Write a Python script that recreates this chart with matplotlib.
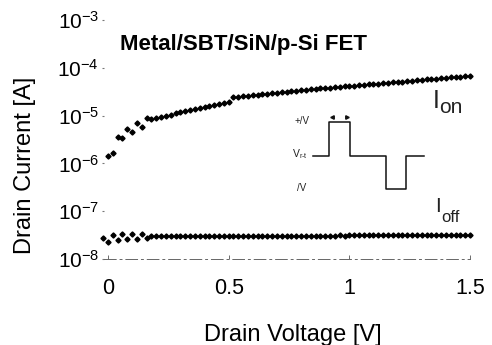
import numpy as np
import matplotlib
matplotlib.use("Agg")
import matplotlib.pyplot as plt

plt.rcParams["font.family"] = ["Liberation Sans", "DejaVu Sans"]
plt.rcParams["mathtext.default"] = "regular"

# drain voltage sweep, 20 mV steps
on_voltage = np.arange(0, 1.5001, 0.02)
off_voltage = np.arange(-0.02, 1.5001, 0.02)

# on current in uA
on_current_uA = [
    1.43, 1.67, 3.52, 3.35, 5.16, 4.60, 7.10, 5.69, 8.79, 8.49,
    8.91, 9.35, 9.91, 10.5, 11.1, 11.7, 12.3, 13.0, 13.7, 14.4,
    15.1, 15.9, 16.8, 17.6, 18.5, 19.5, 24.2, 24.7, 25.4, 25.9,
    26.6, 27.2, 27.9, 28.6, 29.3, 30.0, 30.7, 31.5, 32.2, 33.0,
    33.8, 34.7, 35.5, 36.2, 36.9, 37.7, 38.4, 39.2, 40.0, 40.7,
    41.6, 42.4, 43.3, 44.1, 45.0, 45.9, 46.8, 47.8, 48.6, 49.7,
    50.6, 51.6, 52.7, 53.7, 54.8, 55.9, 57.0, 58.2, 59.3, 60.5,
    61.7, 63.0, 64.1, 65.5, 66.7, 68.1,
]

# off current in units of 1e-8 A
off_current_1e8 = [
    2.69, 2.30, 3.18, 2.50, 3.29, 2.62, 3.29, 2.62, 3.34, 2.71,
    3.05, 3.05, 3.05, 3.06, 3.05, 3.06, 3.06, 3.05, 3.06, 3.06,
    3.06, 3.07, 3.06, 3.07, 3.07, 3.07, 3.07, 3.08, 3.07, 3.08,
    3.08, 3.08, 3.08, 3.08, 3.09, 3.08, 3.09, 3.09, 3.09, 3.09,
    3.09, 3.10, 3.09, 3.10, 3.10, 3.10, 3.10, 3.10, 3.10, 3.11,
    3.10, 3.11, 3.11, 3.11, 3.11, 3.11, 3.11, 3.12, 3.11, 3.12,
    3.12, 3.12, 3.12, 3.13, 3.12, 3.13, 3.13, 3.13, 3.13, 3.13,
    3.13, 3.14, 3.13, 3.14, 3.14, 3.14, 3.14,
]

# pulse sketch in the inset
pulse_t = [0, 16, 16, 37, 37, 73, 73, 93, 93, 111]
pulse_level = [0, 0, 1, 1, 0, 0, -1, -1, 0, 0]

x_ticks = [0, 0.5, 1, 1.5]
x_tick_labels = ["0", "0.5", "1", "1.5"]

on_current = np.array(on_current_uA) * 1e-6
off_current = np.array(off_current_1e8) * 1e-8

fig = plt.figure(figsize=(4.92, 3.45), dpi=100)
ax = fig.add_axes([104 / 492, 1 - 259 / 345, 366 / 492, 239 / 345])

ax.plot(on_voltage, on_current, linestyle="none", marker="D", ms=2.6,
        color="black", clip_on=False)
ax.plot(off_voltage, off_current, linestyle="none", marker="D", ms=2.6,
        color="black", clip_on=False)

ax.set_yscale("log")
ax.set_ylim(1e-8, 1e-3)
ax.set_xlim(-0.0166, 1.5)
ax.set_yticks([1e-8, 1e-7, 1e-6, 1e-5, 1e-4, 1e-3])
ax.minorticks_off()
ax.set_xticks(x_ticks)
ax.set_xticklabels(x_tick_labels)

for side in ["top", "right", "left"]:
    ax.spines[side].set_visible(False)
ax.spines["bottom"].set_color("#666666")
ax.spines["bottom"].set_linewidth(0.7)
ax.spines["bottom"].set_linestyle((0, (12, 4, 2, 4)))

ax.tick_params(axis="x", direction="in", length=3, width=0.6, color="#555555",
               labelsize=15.5, pad=14)
ax.tick_params(axis="y", direction="out", length=1.5, width=0.8, color="#777777",
               labelsize=15, pad=2)

ax.set_xlabel("Drain Voltage [V]", fontsize=17)
ax.set_ylabel("Drain Current [A]", fontsize=17)
ax.xaxis.set_label_coords(0.516, -0.27)
ax.yaxis.set_label_coords(-0.185, 0.393)

ax.text(0.044, 0.874, "Metal/SBT/SiN/p-Si FET", transform=ax.transAxes,
        fontsize=16, fontweight="bold", va="baseline", ha="left")

# curve labels
ax.text(0.897, 0.632, "I", transform=ax.transAxes, fontsize=18,
        va="baseline", color="#222222")
ax.text(0.915, 0.612, "on", transform=ax.transAxes, fontsize=15,
        va="baseline", color="#222222")
ax.text(0.905, 0.197, "I", transform=ax.transAxes, fontsize=15,
        va="baseline", color="#222222")
ax.text(0.922, 0.155, "off", transform=ax.transAxes, fontsize=12,
        va="baseline", color="#222222")

# inset pulse schematic
ins = fig.add_axes([313 / 492, 1 - 189.3 / 345, 111 / 492, 67.6 / 345])
ins.plot(pulse_t, pulse_level, color="#111111", lw=1.1, clip_on=False)
ins.set_xlim(0, 111)
ins.set_ylim(-1, 1)
ins.axis("off")
ins.plot([19], [1.15], marker="<", ms=2.5, color="#111111", clip_on=False)
ins.plot([34], [1.15], marker=">", ms=2.5, color="#111111", clip_on=False)
ins.text(-3, 1.03, "+/V", fontsize=7, ha="right", va="center", color="#222222")
ins.text(-5, 0.05, "V$_{r\u2010t}$", fontsize=7.5, ha="right", va="center",
         color="#222222")
ins.text(-6.5, -0.95, "/V", fontsize=7, ha="right", va="center", color="#222222")

fig.savefig("out.png", dpi=100)
